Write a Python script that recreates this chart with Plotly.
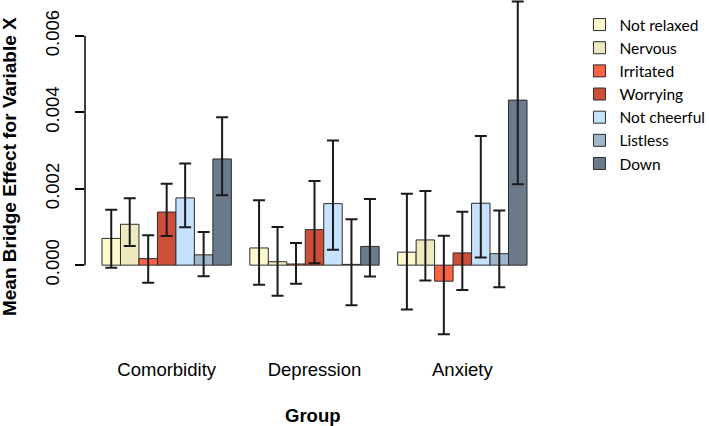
import plotly.graph_objects as go

groups = ["Comorbidity", "Depression", "Anxiety"]
items = ["Not relaxed", "Nervous", "Irritated", "Worrying", "Not cheerful", "Listless", "Down"]
colors = ["#FFFACD", "#EEE9BF", "#FF6347", "#CD4F39", "#C6E2FF", "#9FB6CD", "#6C7B8B"]

# mean bridge effect per item (rows) for each group (Comorbidity, Depression, Anxiety)
means = {
    "Not relaxed":  [0.00070, 0.00045, 0.00034],
    "Nervous":      [0.00107, 0.00009, 0.00066],
    "Irritated":    [0.00017, 0.00003, -0.00042],
    "Worrying":     [0.00139, 0.00093, 0.00032],
    "Not cheerful": [0.00176, 0.00161, 0.00162],
    "Listless":     [0.00027, 0.00002, 0.00030],
    "Down":         [0.00278, 0.00049, 0.00432],
}
lower = {
    "Not relaxed":  [-0.00007, -0.00051, -0.00116],
    "Nervous":      [0.00050, -0.00080, -0.00040],
    "Irritated":    [-0.00046, -0.00049, -0.00181],
    "Worrying":     [0.00076, 0.00005, -0.00065],
    "Not cheerful": [0.00099, 0.00040, 0.00020],
    "Listless":     [-0.00029, -0.00105, -0.00058],
    "Down":         [0.00183, -0.00030, 0.00212],
}
upper = {
    "Not relaxed":  [0.00145, 0.00170, 0.00187],
    "Nervous":      [0.00175, 0.00100, 0.00194],
    "Irritated":    [0.00078, 0.00058, 0.00077],
    "Worrying":     [0.00213, 0.00220, 0.00140],
    "Not cheerful": [0.00266, 0.00326, 0.00338],
    "Listless":     [0.00087, 0.00120, 0.00143],
    "Down":         [0.00387, 0.00173, 0.00690],
}
ytick_vals = [0.000, 0.002, 0.004, 0.006]
ytick_text = ["0.000", "0.002", "0.004", "0.006"]

fig = go.Figure()
for name, col in zip(items, colors):
    m = means[name]
    plus = [u - v for u, v in zip(upper[name], m)]
    minus = [v - l for v, l in zip(m, lower[name])]
    fig.add_trace(go.Bar(
        x=groups, y=m, name=name,
        marker=dict(color=col, line=dict(color="#2b2b2b", width=1)),
        error_y=dict(type="data", symmetric=False, array=plus, arrayminus=minus,
                     color="#1a1a1a", thickness=2, width=6),
    ))

fig.update_layout(
    width=709, height=426,
    margin=dict(l=85, r=164.5, t=0, b=81, autoexpand=False),
    paper_bgcolor="white", plot_bgcolor="white",
    barmode="group", bargap=0.125, bargroupgap=0,
    font=dict(family="Liberation Sans, Arial, sans-serif", color="#000000"),
    showlegend=True,
    legend=dict(x=(580 - 85) / 459.5, xanchor="left", y=1 - 8 / 345, yanchor="top",
                font=dict(family="Lato, sans-serif", size=15.5, color="#000"),
                bgcolor="rgba(0,0,0,0)", traceorder="normal"),
    xaxis=dict(range=[-0.5525, 2.5525], showline=False, showgrid=False, zeroline=False,
               ticks="outside", ticklen=8, tickcolor="rgba(0,0,0,0)",
               tickfont=dict(size=18.5)),
    yaxis=dict(range=[-0.00209, 0.00694], showline=False, showgrid=False, zeroline=False,
               tickvals=ytick_vals, ticktext=ytick_text, tickangle=-90,
               ticks="outside", ticklen=9, tickwidth=1.5, tickcolor="#000",
               ticklabelstandoff=9, tickfont=dict(size=18.5)),
    shapes=[dict(type="line", xref="paper", yref="y", x0=0, x1=0,
                 y0=ytick_vals[0], y1=ytick_vals[-1], line=dict(color="#000", width=1.5))],
    annotations=[
        dict(text="<b>Mean Bridge Effect for Variable X</b>", xref="paper", yref="paper",
             x=(9 - 85) / 459.5, y=1 - 167 / 345, textangle=-90, showarrow=False,
             xanchor="center", yanchor="middle", font=dict(size=19)),
        dict(text="<b>Group</b>", xref="paper", yref="paper",
             x=(313 - 85) / 459.5, y=1 - 415 / 345, showarrow=False,
             xanchor="center", yanchor="middle", font=dict(size=18.5)),
    ],
)

fig.write_html("out.html", config={"displayModeBar": False},
               post_script="document.body.style.margin='0';document.body.style.padding='0';")
